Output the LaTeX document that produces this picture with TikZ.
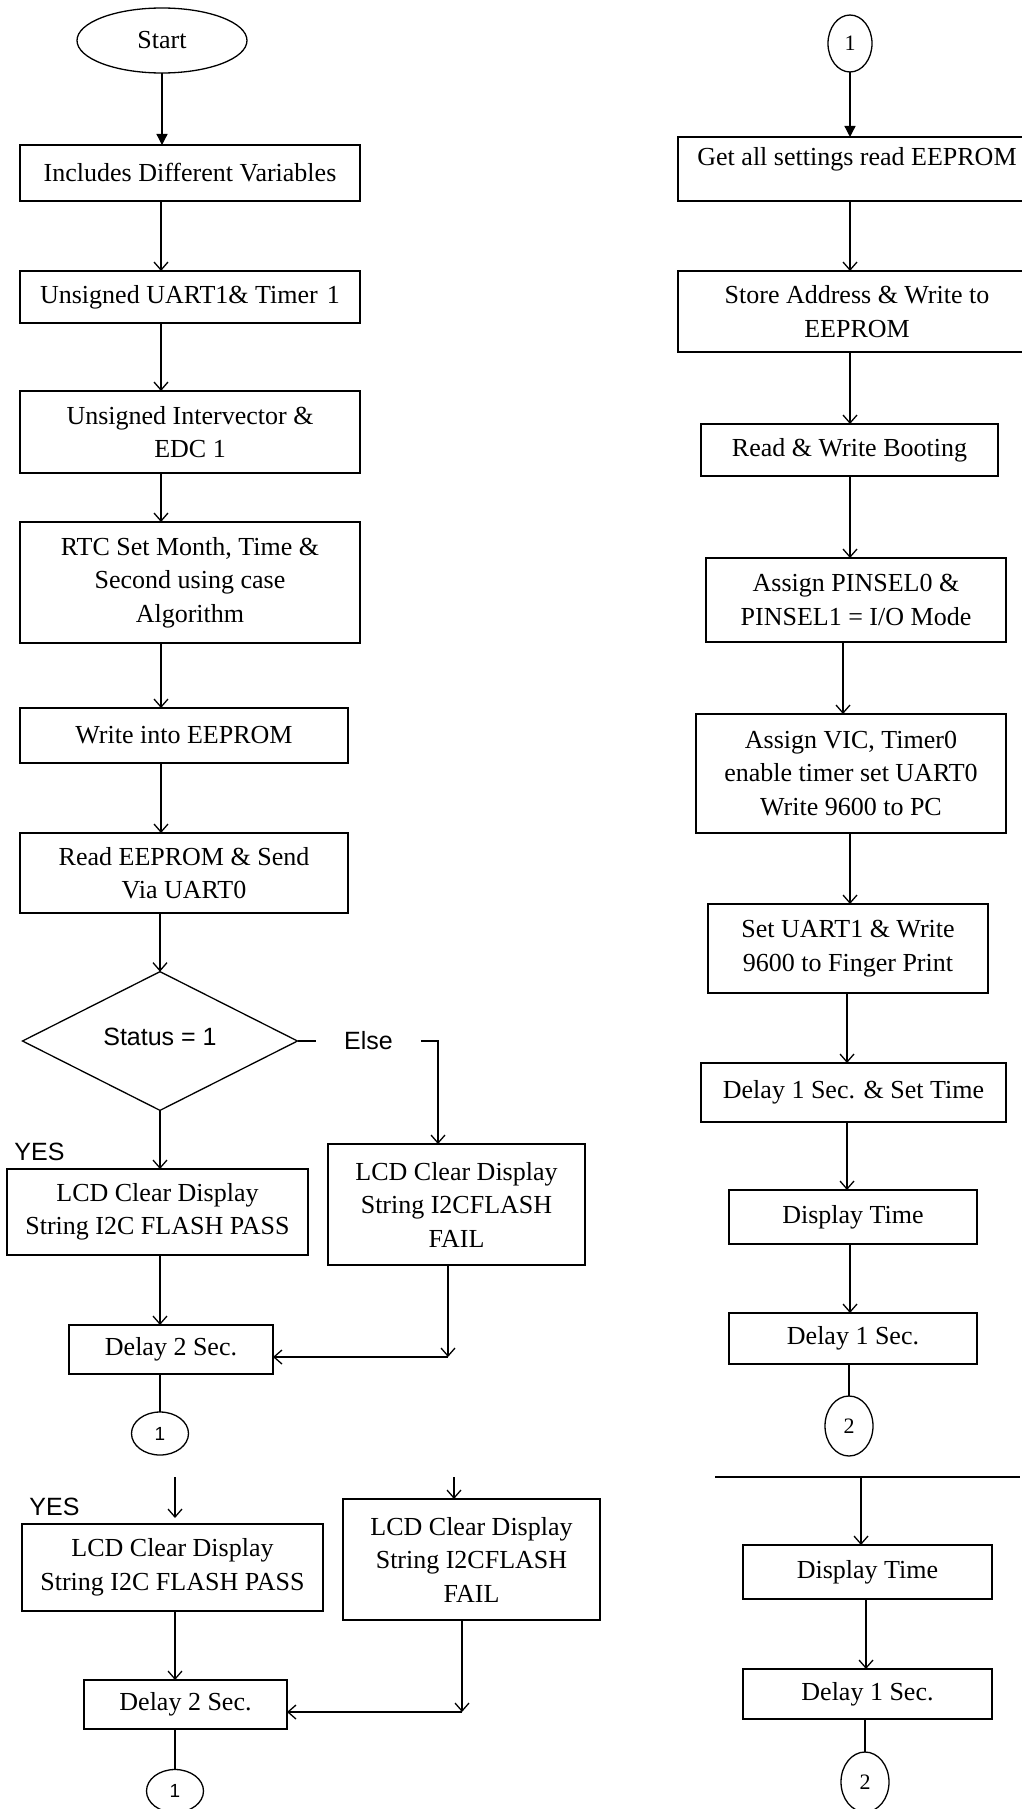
\documentclass[tikz,border=0pt]{standalone}
\usepackage{fontspec}
\setmainfont{Liberation Serif}
\newfontfamily\arialf{Liberation Sans}
\usetikzlibrary{shapes.geometric,arrows.meta}
\begin{document}
\begin{tikzpicture}[x=1pt,y=-1pt,
  every node/.style={inner sep=0pt,outer sep=0pt},
  box/.style={draw,line width=1.3pt,align=center,font=\fontsize{26}{33.5}\selectfont},
  lab/.style={font=\arialf\fontsize{25}{30}\selectfont},
  ln/.style={line width=1.3pt},
  arr/.style={ln,-{Straight Barb[length=8pt,width=14pt,line width=1.3pt]}},
  farr/.style={ln,-{Triangle[length=11pt,width=11pt]}},
  conn/.style={draw,ellipse,line width=1.3pt,font=\fontsize{22}{26}\selectfont},
  connl/.style={conn,minimum width=57pt,minimum height=43pt,font=\arialf\fontsize{19}{22}\selectfont}]
\useasboundingbox (0,0) rectangle (1022,1809);
\fill[white] (0,0) rectangle (1022,1809);
% ---------- left column ----------
\node[conn,minimum width=170pt,minimum height=65pt,font=\fontsize{26}{30}\selectfont] (start) at (162,40.5) {Start};
\node[box,minimum width=340pt,minimum height=56pt] (inc) at (190,173) {Includes Different Variables};
\node[box,minimum width=340pt,minimum height=52pt] (uart) at (190,297) {Unsigned UART1\& Timer\hspace{0.35em}1};
\node[box,minimum width=340pt,minimum height=82pt] (inter) at (190,432) {Unsigned Intervector \&\\EDC 1};
\node[box,minimum width=340pt,minimum height=121pt] (rtc) at (190,582.5) {RTC Set Month, Time \&\\Second using case\\Algorithm};
\node[box,minimum width=328pt,minimum height=55pt] (write) at (184,735.5) {Write into EEPROM};
\node[box,minimum width=328pt,minimum height=80pt] (read) at (184,873) {Read EEPROM \& Send\\Via UART0};
\node[draw,diamond,line width=1.3pt,minimum width=275pt,minimum height=110pt,lab] (dia) at (160,1041) {\raisebox{8pt}{Status = 1}};
\node[lab,inner xsep=28pt] (else) at (368.5,1041) {Else};
\node[lab] (yes1) at (39.5,1152) {YES};
\node[box,minimum width=301pt,minimum height=86pt] (lcd1) at (157.5,1212) {LCD Clear Display\\String I2C FLASH PASS};
\node[box,minimum width=257pt,minimum height=121pt] (fail1) at (456.5,1204.5) {LCD Clear Display\\String I2CFLASH\\FAIL};
\node[box,minimum width=204pt,minimum height=49pt] (del1) at (171,1349.5) {Delay 2 Sec.};
\node[connl] (c1a) at (160,1433.5) {1};
\node[lab] (yes2) at (54.5,1507) {YES};
\node[box,minimum width=301pt,minimum height=87pt] (lcd2) at (172.5,1567.5) {LCD Clear Display\\String I2C FLASH PASS};
\node[box,minimum width=257pt,minimum height=121pt] (fail2) at (471.5,1559.5) {LCD Clear Display\\String I2CFLASH\\FAIL};
\node[box,minimum width=203pt,minimum height=49pt] (del2) at (185.5,1704.5) {Delay 2 Sec.};
\node[connl] (c1b) at (175,1791) {1};
% helper coordinates
\coordinate (xl) at (161,0);
\coordinate (fx1) at (438,0);
\coordinate (k1) at (448,1357);
\coordinate (t2a) at (175,1477);
\coordinate (t2b) at (454,1477);
\coordinate (k2) at (462,1712);
% left connectors
\draw[farr] (start.south) -- (inc.north -| start.south);
\draw[arr] (inc.south -| xl) -- (uart.north -| xl);
\draw[arr] (uart.south -| xl) -- (inter.north -| xl);
\draw[arr] (inter.south -| xl) -- (rtc.north -| xl);
\draw[arr] (rtc.south -| xl) -- (write.north -| xl);
\draw[arr] (write.south -| xl) -- (read.north -| xl);
\draw[arr] (read.south -| dia.north) -- (dia.north);
\draw[ln] (dia.east) -- (else.west);
\draw[arr] (else.east) -| (fail1.north -| fx1);
\draw[arr] (dia.south) -- (lcd1.north -| dia.south);
\draw[arr] (lcd1.south -| dia.south) -- (del1.north -| dia.south);
\draw[arr] (fail1.south -| k1) -- (k1);
\draw[arr] (k1) -- (del1.east |- k1);
\draw[ln] (del1.south -| c1a.north) -- (c1a.north);
\draw[arr,shorten >=6pt] (t2a) -- (lcd2.north -| t2a);
\draw[arr] (t2b) -- (fail2.north -| t2b);
\draw[arr] (lcd2.south -| t2a) -- (del2.north -| t2a);
\draw[arr] (fail2.south -| k2) -- (k2);
\draw[arr] (k2) -- (del2.east |- k2);
\draw[ln] (del2.south -| c1b.north) -- (c1b.north);
% ---------- right column ----------
\node[conn,minimum width=44pt,minimum height=57pt] (c1r) at (850,43.5) {1};
\node[box,minimum width=358pt,minimum height=64pt] (get) at (857,169) {};
\node[font=\fontsize{26}{33.5}\selectfont] (gettxt) at (857,159) {Get all settings read EEPROM};
\node[box,minimum width=358pt,minimum height=81pt] (store) at (857,311.5) {Store Address \& Write to\\EEPROM};
\node[box,minimum width=297pt,minimum height=52pt] (rw) at (849.5,450) {Read \& Write Booting};
\node[box,minimum width=300pt,minimum height=84pt] (pin) at (856,600) {Assign PINSEL0 \&\\PINSEL1 = I/O Mode};
\node[box,minimum width=310pt,minimum height=119pt] (vic) at (851,773.5) {Assign VIC, Timer0\\enable timer set UART0\\Write 9600 to PC};
\node[box,minimum width=280pt,minimum height=89pt] (u1) at (848,948.5) {Set UART1 \& Write\\9600 to Finger Print};
\node[box,minimum width=305pt,minimum height=59pt] (dset) at (853.5,1092.5) {Delay 1 Sec. \& Set Time};
\node[box,minimum width=248pt,minimum height=54pt] (disp) at (853,1217) {Display Time};
\node[box,minimum width=248pt,minimum height=51pt] (d1) at (853,1338.5) {Delay 1 Sec.};
\node[conn,minimum width=48pt,minimum height=60pt] (c2a) at (849,1426) {2};
\coordinate (sepL) at (715,1477);
\coordinate (sepR) at (1020,1477);
\coordinate (s1) at (861,1477);
\node[box,minimum width=249pt,minimum height=54pt] (disp2) at (867.5,1572) {Display Time};
\node[box,minimum width=249pt,minimum height=50pt] (d2) at (867.5,1694) {Delay 1 Sec.};
\node[conn,minimum width=48pt,minimum height=60pt] (c2b) at (865,1782) {2};
\coordinate (xa) at (850,0);
\coordinate (xb) at (843,0);
\coordinate (xc) at (847,0);
\coordinate (xd) at (866,0);
% right connectors
\draw[farr] (c1r.south) -- (get.north -| c1r.south);
\draw[arr] (get.south -| xa) -- (store.north -| xa);
\draw[arr] (store.south -| xa) -- (rw.north -| xa);
\draw[arr] (rw.south -| xa) -- (pin.north -| xa);
\draw[arr] (pin.south -| xb) -- (vic.north -| xb);
\draw[arr] (vic.south -| xa) -- (u1.north -| xa);
\draw[arr] (u1.south -| xc) -- (dset.north -| xc);
\draw[arr] (dset.south -| xc) -- (disp.north -| xc);
\draw[arr] (disp.south -| xa) -- (d1.north -| xa);
\draw[ln] (d1.south -| c2a.north) -- (c2a.north);
\draw[ln] (sepL) -- (sepR);
\draw[arr] (s1) -- (disp2.north -| s1);
\draw[arr] (disp2.south -| xd) -- (d2.north -| xd);
\draw[ln] (d2.south -| c2b.north) -- (c2b.north);
\end{tikzpicture}
\end{document}
